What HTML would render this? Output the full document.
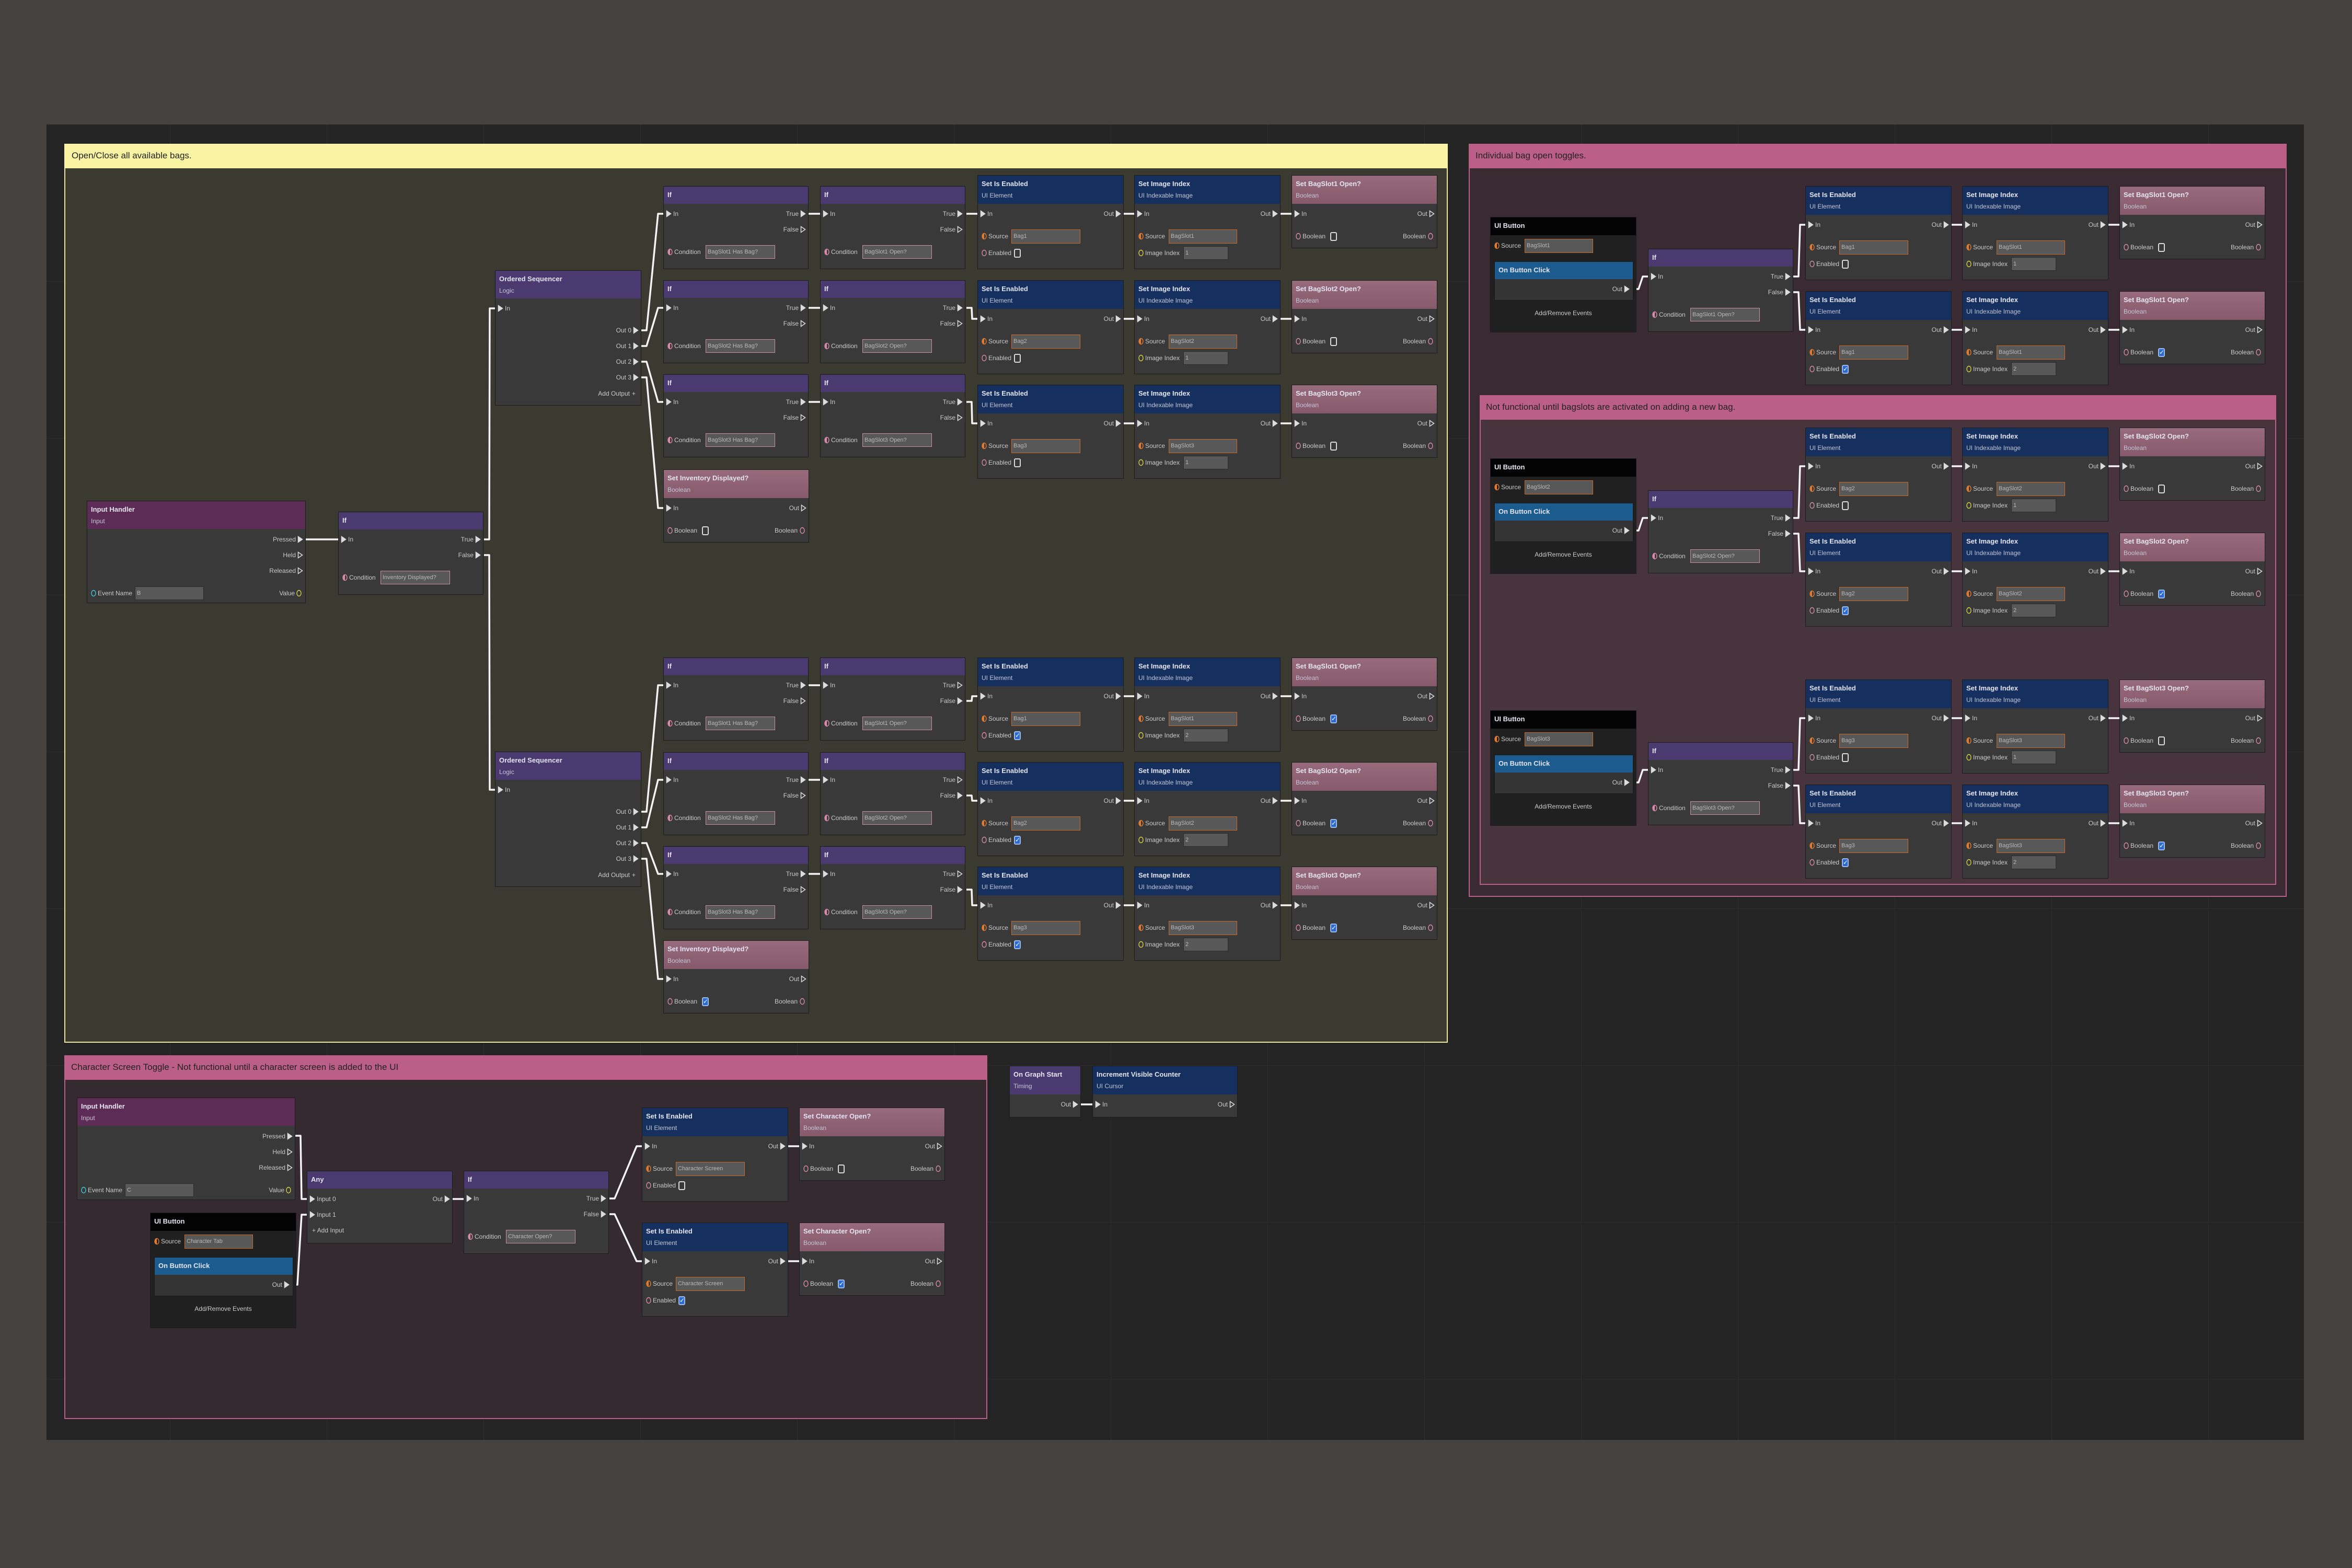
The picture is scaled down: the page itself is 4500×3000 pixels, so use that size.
<!DOCTYPE html>
<html><head><meta charset="utf-8">
<style>
html,body{margin:0;padding:0;}
body{width:4500px;height:3000px;background:#45413f;position:relative;overflow:hidden;font-family:"Liberation Sans",sans-serif;}
.t{position:absolute;transform:translateY(-50%);white-space:nowrap;font-size:12px;color:#c9c9c9;line-height:14px;}
.r{transform:translate(-100%,-50%);}
.ti{font-weight:bold;font-size:13px;color:#e4e4f0;}
.sb{font-size:12px;color:#c4c4d4;}
.n{position:absolute;background:#393939;border:1px solid #1c1c1c;box-sizing:border-box;}
.h{position:absolute;left:0;top:0;right:0;}
.f{position:absolute;box-sizing:border-box;background:#585858;font-size:11px;color:#b8b8b8;padding-left:3px;white-space:nowrap;overflow:hidden;}
.cb{position:absolute;width:13px;height:17px;box-sizing:border-box;border:2px solid #d8d8d8;border-radius:3px;}
.cb.on{background:#2b6ad0;border-color:#9ab8e8;color:#fff;font-size:12px;line-height:13px;text-align:center;}
.g{position:absolute;box-sizing:border-box;}
</style></head>
<body>
<div id="c" style="position:absolute;left:0;top:0;width:4500px;height:3000px;"></div>
<script>
var H='';
var PUR='#4b3a70',BLU='#15305e',PNK='linear-gradient(#976b7c,#865a6b)',IH='#5c2c56';
function div(x,y,w,h,st,inner){H+='<div style="position:absolute;left:'+x+'px;top:'+y+'px;width:'+w+'px;height:'+h+'px;'+st+'">'+(inner||'')+'</div>';}
function t(x,y,s,cls,st){H+='<div class="t '+(cls||'')+'" style="left:'+x+'px;top:'+y+'px;'+(st||'')+'">'+s+'</div>';}
function tri(x,y,f){H+='<svg style="position:absolute;left:'+(x-5)+'px;top:'+(y-7)+'px" width="11" height="14"><polygon points="1.5,1.5 9.5,7 1.5,12.5" fill="'+(f?'#dcdcdc':'none')+'" stroke="#dcdcdc" stroke-width="1.5"/></svg>';}
function circ(x,y,c,half){H+='<svg style="position:absolute;left:'+(x-6)+'px;top:'+(y-7)+'px" width="12" height="14"><ellipse cx="6" cy="7" rx="4" ry="5.5" fill="none" stroke="'+c+'" stroke-width="1.4"/>'+(half?'<path d="M6 1.5 A4 5.5 0 0 0 6 12.5 Z" fill="'+c+'"/>':'')+'</svg>';}
function cb(x,y,on){H+='<div class="cb'+(on?' on':'')+'" style="left:'+x+'px;top:'+(y-8)+'px">'+(on?'✓':'')+'</div>';}
function fld(x,y,w,h,s,bc){H+='<div class="f" style="left:'+x+'px;top:'+y+'px;width:'+w+'px;height:'+h+'px;line-height:'+(h-2)+'px;border:'+(bc?'1.5px solid '+bc:'1px solid #2c2c2c')+'">'+s+'</div>';}
function node(x,y,w,h,hh,col,title,sub){H+='<div class="n" style="left:'+x+'px;top:'+y+'px;width:'+w+'px;height:'+h+'px"><div class="h" style="height:'+hh+'px;background:'+col+'"></div></div>';
 t(x+8,y+(sub?17:17),title,'ti'); if(sub)t(x+8,y+39,sub,'sb');}
function eIn(x,y,l,f){tri(x+10,y,f!==false);t(x+19,y,l);}
function eOut(x,y,l,f){tri(x-11,y,f);t(x-19,y,l,'r');}
function ifN(x,y,cond,tf,ff){node(x,y,278,159,33,PUR,'If');eIn(x,y+53,'In');eOut(x+278,y+53,'True',tf);eOut(x+278,y+83,'False',ff);
 circ(x+13,y+126,'#d88aa8',1);t(x+21,y+126,'Condition');fld(x+81,y+113,133,26,cond,'#c98ea6');}
function setEn(x,y,src,on){node(x,y,280,180,54,BLU,'Set Is Enabled','UI Element');eIn(x,y+74,'In');eOut(x+280,y+74,'Out',1);
 circ(x+13,y+117,'#e07a30',1);t(x+21,y+117,'Source');fld(x+65,y+104,132,27,src,'#c8692a');
 circ(x+13,y+149,'#d88aa8',0);t(x+21,y+149,'Enabled');cb(x+70,y+149,on);}
function setImg(x,y,src,idx){node(x,y,280,180,54,BLU,'Set Image Index','UI Indexable Image');eIn(x,y+74,'In');eOut(x+280,y+74,'Out',1);
 circ(x+13,y+117,'#e07a30',1);t(x+21,y+117,'Source');fld(x+66,y+104,131,27,src,'#c8692a');
 circ(x+13,y+149,'#d8d040',0);t(x+21,y+149,'Image Index');fld(x+94,y+136,86,26,idx);}
function bagN(x,y,title,on){node(x,y,279,140,54,PNK,title,'Boolean');eIn(x,y+74,'In');eOut(x+279,y+74,'Out',0);
 circ(x+13,y+117,'#d88aa8',0);t(x+21,y+117,'Boolean');cb(x+74,y+117,on);circ(x+266,y+117,'#d88aa8',0);t(x+257,y+117,'Boolean','r');}
function seqN(x,y){node(x,y,280,259,53,PUR,'Ordered Sequencer','Logic');eIn(x,y+73,'In');
 for(var i=0;i<4;i++)eOut(x+280,y+115+30*i,'Out '+i,1);t(x+258,y+236,'Add Output','r');t(x+262,y+236,'+','',' ');}
function ihN(x,y,w,ev){node(x,y,w,196,53,IH,'Input Handler','Input');eOut(x+w,y+74,'Pressed',1);eOut(x+w,y+104,'Held',0);eOut(x+w,y+134,'Released',0);
 circ(x+13,y+177,'#40c8d8',0);t(x+21,y+177,'Event Name');fld(x+92,y+164,132,26,ev);circ(x+w-13,y+177,'#d8d040',0);t(x+w-21,y+177,'Value','r');}
function uib(x,y,src){H+='<div class="n" style="left:'+x+'px;top:'+y+'px;width:280px;height:221px;background:#202020"><div class="h" style="height:34px;background:#030303"></div></div>';
 t(x+8,y+17,'UI Button','ti');circ(x+13,y+55,'#e07a30',1);t(x+21,y+55,'Source');fld(x+66,y+42,131,27,src,'#c8692a');
 div(x+8,y+85,266,75,'background:#343434;border:1px solid #1a1a1a;box-sizing:border-box','<div style="height:33px;background:#1b5b8e"></div>');
 t(x+16,y+102,'On Button Click','ti');eOut(x+272,y+138,'Out',1);t(x+140,y+184,'Add/Remove Events','','transform:translate(-50%,-50%)');}
function wire(a,b,c,d){W+='<polyline points="'+a+','+b+' '+(a+10)+','+b+' '+(c-10)+','+d+' '+c+','+d+'"/>';}
var W='';
// canvas
div(89,238,4319,2517,'background-color:#242424;background-image:linear-gradient(rgba(255,255,255,0.035) 1px,transparent 1px),linear-gradient(90deg,rgba(255,255,255,0.035) 1px,transparent 1px);background-size:300px 300px;background-position:236px 0');
// groups
div(123,275,2647,1720,'background:#3b3a31;border:2px solid #ece59a;box-sizing:border-box');
div(123,275,2647,47,'background:#f8f4a4');t(137,298,'Open/Close all available bags.','','font-size:17px;color:#222');
div(2810,275,1565,1441,'background:#3a2b32;border:2px solid #b95e88;box-sizing:border-box');
div(2810,275,1565,47,'background:#bb5f89');t(2823,298,'Individual bag open toggles.','','font-size:17px;color:#222');
div(2831,756,1524,937,'background:#47343d;border:2px solid #b95e88;box-sizing:border-box');
div(2831,756,1524,47,'background:#bb5f89');t(2843,779,'Not functional until bagslots are activated on adding a new bag.','','font-size:17px;color:#222');
div(123,2019,1766,696,'background:#352a2f;border:2px solid #b95e88;box-sizing:border-box');
div(123,2019,1766,47,'background:#bb5f89');t(136,2042,'Character Screen Toggle - Not functional until a character screen is added to the UI','','font-size:17px;color:#222');
var G=H;H='';
// group1 nodes
ihN(166,958,419,'B');
ifN(647,979,'Inventory Displayed?',1,1);
seqN(947,517);seqN(947,1438);
wire(585,1032,647,1032);wire(926,1032,947,590);wire(926,1062,947,1511);
var ifT=[356,536,716],sT=[335,536,736],ifB=[1258,1439,1619],sB=[1258,1458,1658];
for(var i=0;i<3;i++){var k=i+1;
 ifN(1269,ifT[i],'BagSlot'+k+' Has Bag?',1,0);ifN(1569,ifT[i],'BagSlot'+k+' Open?',1,0);
 setEn(1870,sT[i],'Bag'+k,0);setImg(2170,sT[i],'BagSlot'+k,'1');bagN(2471,sT[i],'Set BagSlot'+k+' Open?',0);
 wire(1227,632+30*i,1269,ifT[i]+53);wire(1547,ifT[i]+53,1569,ifT[i]+53);wire(1849,ifT[i]+53,1870,sT[i]+74);
 wire(2150,sT[i]+74,2170,sT[i]+74);wire(2450,sT[i]+74,2471,sT[i]+74);
 ifN(1269,ifB[i],'BagSlot'+k+' Has Bag?',1,0);ifN(1569,ifB[i],'BagSlot'+k+' Open?',0,1);
 setEn(1870,sB[i],'Bag'+k,1);setImg(2170,sB[i],'BagSlot'+k,'2');bagN(2471,sB[i],'Set BagSlot'+k+' Open?',1);
 wire(1227,1553+30*i,1269,ifB[i]+53);wire(1547,ifB[i]+53,1569,ifB[i]+53);wire(1849,ifB[i]+83,1870,sB[i]+74);
 wire(2150,sB[i]+74,2170,sB[i]+74);wire(2450,sB[i]+74,2471,sB[i]+74);}
bagN(1269,898,'Set Inventory Displayed?',0);bagN(1269,1799,'Set Inventory Displayed?',1);
wire(1227,722,1269,972);wire(1227,1643,1269,1873);
// group2
var D=[0,462,944];
for(var i=0;i<3;i++){var d=D[i],k=i+1;
 uib(2851,415+d,'BagSlot'+k);ifN(3153,476+d,'BagSlot'+k+' Open?',1,1);
 setEn(3454,356+d,'Bag'+k,0);setImg(3754,356+d,'BagSlot'+k,'1');bagN(4055,356+d,'Set BagSlot'+k+' Open?',0);
 setEn(3454,557+d,'Bag'+k,1);setImg(3754,557+d,'BagSlot'+k,'2');bagN(4055,557+d,'Set BagSlot'+k+' Open?',1);
 wire(3125,553+d,3153,529+d);wire(3431,529+d,3454,430+d);wire(3431,559+d,3454,631+d);
 wire(3734,430+d,3754,430+d);wire(4034,430+d,4055,430+d);wire(3734,631+d,3754,631+d);wire(4034,631+d,4055,631+d);}
// group3
ihN(147,2100,418,'C');uib(287,2320,'Character Tab');
node(587,2240,279,139,33,PUR,'Any');eIn(587,2294,'Input 0');eIn(587,2324,'Input 1');t(597,2354,'+ Add Input');eOut(866,2294,'Out',1);
ifN(887,2240,'Character Open?',1,1);
setEn(1228,2119,'Character Screen',0);bagN(1529,2119,'Set Character Open?',0);
setEn(1228,2339,'Character Screen',1);bagN(1529,2339,'Set Character Open?',1);
wire(565,2173,587,2294);wire(559,2458,587,2324);wire(866,2294,887,2294);
wire(1166,2293,1228,2193);wire(1166,2323,1228,2413);wire(1508,2193,1529,2193);wire(1508,2413,1529,2413);
// others
node(1931,2039,137,99,54,PUR,'On Graph Start','Timing');eOut(2068,2113,'Out',1);
node(2090,2039,278,99,54,BLU,'Increment Visible Counter','UI Cursor');eIn(2090,2113,'In');eOut(2368,2113,'Out',0);
wire(2068,2113,2090,2113);
document.getElementById('c').innerHTML=G+'<svg style="position:absolute;left:0;top:0" width="4500" height="3000"><g fill="none" stroke="#f4f4f4" stroke-width="3.5" stroke-linejoin="round">'+W+'</g></svg>'+H;
</script>
</body></html>
